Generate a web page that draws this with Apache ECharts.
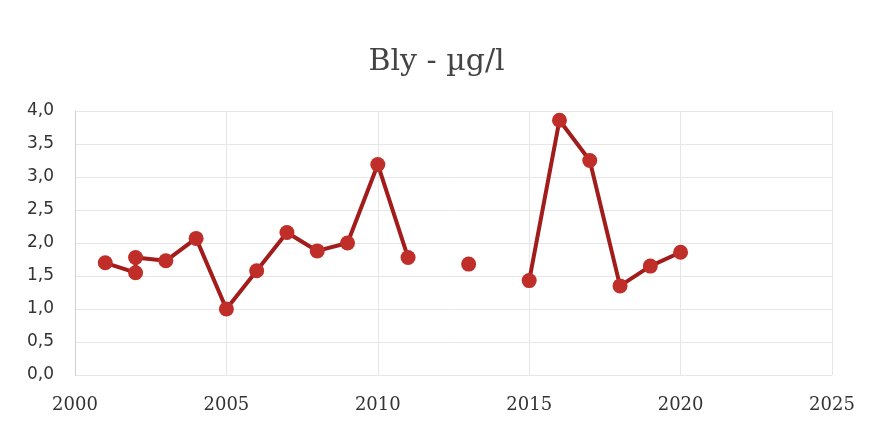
<!DOCTYPE html>
<html><head><meta charset="utf-8">
<script src="https://cdn.jsdelivr.net/npm/echarts@6/dist/echarts.min.js"></script>
<style>html,body{margin:0;padding:0;background:#fff}#c{width:873px;height:426px}</style>
</head><body><div id="c"></div>
<script>
const years = [2001, 2002, 2002, 2003, 2004, 2005, 2006, 2007, 2008, 2009, 2010, 2011, 2012, 2013, 2014, 2015, 2016, 2017, 2018, 2019, 2020];
const values = [1.70, 1.55, 1.78, 1.73, 2.07, 1.00, 1.58, 2.16, 1.88, 2.00, 3.19, 1.78, null, 1.68, null, 1.43, 3.86, 3.25, 1.35, 1.65, 1.86];
const title = 'Bly - µg/l';

const data = years.map((y, i) => [y, values[i] === null ? '-' : values[i]]);
const chart = echarts.init(document.getElementById('c'));
chart.setOption({
  animation: false,
  backgroundColor: '#fff',
  title: { text: title, left: 'center', top: 42,
    textStyle: { fontFamily: 'DejaVu Serif', fontWeight: 'normal', fontSize: 30, color: '#444' } },
  grid: { left: 75, right: 41, top: 111, bottom: 51 },
  xAxis: { type: 'value', min: 2000, max: 2025, interval: 5,
    axisLine: { show: false }, axisTick: { show: false },
    splitLine: { show: true, lineStyle: { color: '#e6e6e6' } },
    axisLabel: { margin: 21, fontFamily: 'DejaVu Serif', fontSize: 18, color: '#333',
      formatter: v => String(v) } },
  yAxis: { type: 'value', min: 0, max: 4, interval: 0.5,
    axisLine: { show: true, lineStyle: { color: '#d0d0d0' } }, axisTick: { show: false },
    splitLine: { lineStyle: { color: '#e6e6e6' } },
    axisLabel: { margin: 21, fontFamily: 'DejaVu Sans', fontSize: 17, color: '#333',
      formatter: v => v.toFixed(1).replace('.', ',') } },
  series: [{ type: 'line', data: data, connectNulls: false,
    symbol: 'circle', symbolSize: 15,
    lineStyle: { color: '#a31c1c', width: 4 },
    itemStyle: { color: '#c02e29' } }]
});
</script></body></html>
